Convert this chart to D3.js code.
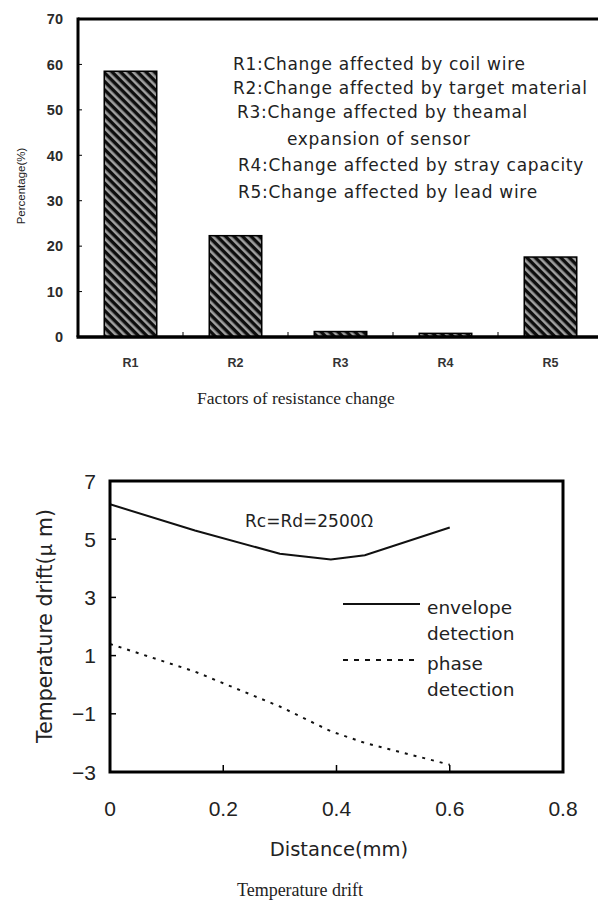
<!DOCTYPE html>
<html>
<head>
<meta charset="utf-8">
<script src="https://cdn.jsdelivr.net/npm/d3@7"></script>
<style>
  body { margin: 0; background: #fff; }
  svg { display: block; }
</style>
</head>
<body>
<script>
// Data
const factors = ["R1", "R2", "R3", "R4", "R5"];
const percentages = [58.5, 22.3, 1.2, 0.8, 17.6];
const percentTicks = [0, 10, 20, 30, 40, 50, 60, 70];
const factorNotes = [
    "R1:Change affected by coil wire",
    "R2:Change affected by target material",
    "R3:Change affected by theamal",
    "expansion of sensor",
    "R4:Change affected by stray capacity",
    "R5:Change affected by lead wire"
];

const distance = [0, 0.15, 0.3, 0.39, 0.45, 0.6];
const envelopeDrift = [6.2, 5.3, 4.5, 4.3, 4.45, 5.4];
const phaseDrift = [1.4, 0.45, -0.75, -1.6, -2.0, -2.75];
const driftTicks = [-3, -1, 1, 3, 5, 7];
const distanceTicks = [0, 0.2, 0.4, 0.6, 0.8];

const width = 598;
const height = 900;

const svg = d3.select("body").append("svg")
    .attr("width", width)
    .attr("height", height);

// Hatch pattern for the bars
const defs = svg.append("defs");
const pat = defs.append("pattern")
    .attr("id", "hatch")
    .attr("patternUnits", "userSpaceOnUse")
    .attr("width", 6)
    .attr("height", 6)
    .attr("patternTransform", "rotate(-45)");
pat.append("rect").attr("width", 6).attr("height", 6).attr("fill", "#0d0d0d");
pat.append("rect").attr("x", 0).attr("width", 2.6).attr("height", 6).attr("fill", "#a0a0a0");

// ---------- Top chart: bars ----------
const barBox = { left: 78, right: 603, top: 19, bottom: 337 };

const xBand = d3.scaleBand()
    .domain(factors)
    .range([barBox.left, barBox.right])
    .paddingInner(0.5)
    .paddingOuter(0.25);

const yPct = d3.scaleLinear()
    .domain([0, 70])
    .range([barBox.bottom, barBox.top]);

const g1 = svg.append("g");

// bars
g1.selectAll(".bar")
    .data(factors)
    .enter().append("rect")
    .attr("class", "bar")
    .attr("x", d => xBand(d))
    .attr("y", (d, i) => yPct(percentages[i]))
    .attr("width", xBand.bandwidth())
    .attr("height", (d, i) => yPct(0) - yPct(percentages[i]))
    .attr("fill", "url(#hatch)")
    .attr("stroke", "#000")
    .attr("stroke-width", 1.5);

// frame lines
g1.append("line")
    .attr("x1", barBox.left).attr("x2", width)
    .attr("y1", barBox.top).attr("y2", barBox.top)
    .attr("stroke", "#000").attr("stroke-width", 3);
g1.append("line")
    .attr("x1", barBox.left).attr("x2", barBox.left)
    .attr("y1", barBox.top - 1.5).attr("y2", barBox.bottom)
    .attr("stroke", "#000").attr("stroke-width", 3);
g1.append("line")
    .attr("x1", barBox.left - 1.5).attr("x2", width)
    .attr("y1", barBox.bottom).attr("y2", barBox.bottom)
    .attr("stroke", "#000").attr("stroke-width", 3.5);

// y ticks (inward)
g1.selectAll(".ytick")
    .data(percentTicks.slice(1, -1))
    .enter().append("line")
    .attr("x1", barBox.left).attr("x2", barBox.left + 4)
    .attr("y1", d => yPct(d)).attr("y2", d => yPct(d))
    .attr("stroke", "#000").attr("stroke-width", 1);

g1.selectAll(".ylab")
    .data(percentTicks)
    .enter().append("text")
    .attr("x", barBox.left - 15)
    .attr("y", d => yPct(d))
    .attr("dy", "0.36em")
    .attr("text-anchor", "end")
    .style("font-family", "Liberation Sans, Arial, sans-serif")
    .style("font-size", "14.5px")
    .style("font-weight", "bold")
    .style("fill", "#2a2a2a")
    .text(d => d);

// x category ticks (boundaries, inward)
g1.selectAll(".xtick")
    .data(factors.slice(1))
    .enter().append("line")
    .attr("x1", d => xBand(d) - xBand.step() * 0.25)
    .attr("x2", d => xBand(d) - xBand.step() * 0.25)
    .attr("y1", barBox.bottom).attr("y2", barBox.bottom - 5)
    .attr("stroke", "#000").attr("stroke-width", 1);

g1.selectAll(".xlab")
    .data(factors)
    .enter().append("text")
    .attr("x", d => xBand(d) + xBand.bandwidth() / 2)
    .attr("y", 362)
    .attr("dy", "0.36em")
    .attr("text-anchor", "middle")
    .style("font-family", "Liberation Sans Narrow, Liberation Sans, Arial, sans-serif")
    .style("font-size", "12.5px")
    .style("font-weight", "bold")
    .style("fill", "#333")
    .text(d => d);

// y label
g1.append("text")
    .attr("transform", "translate(21,186) rotate(-90)")
    .attr("text-anchor", "middle")
    .attr("dy", "0.36em")
    .style("font-family", "Liberation Sans, Arial, sans-serif")
    .style("font-size", "11.5px")
    .style("fill", "#222")
    .text("Percentage(%)");

// notes
const noteX = [233, 233, 237, 287, 238, 238];
const noteY = [64, 88, 112, 139, 165, 192];
g1.selectAll(".note")
    .data(factorNotes)
    .enter().append("text")
    .attr("x", (d, i) => noteX[i])
    .attr("y", (d, i) => noteY[i])
    .attr("dy", "0.36em")
    .style("font-family", "DejaVu Sans, sans-serif")
    .style("font-size", "17px")
    .style("letter-spacing", "0.7px")
    .style("fill", "#222")
    .text(d => d);

// caption
svg.append("text")
    .attr("x", 296).attr("y", 398)
    .attr("dy", "0.36em")
    .attr("text-anchor", "middle")
    .style("font-family", "Liberation Serif, Times New Roman, serif")
    .style("font-size", "17.5px")
    .style("fill", "#222")
    .text("Factors of resistance change");

// ---------- Bottom chart: lines ----------
const lineBox = { left: 110, right: 563, top: 481, bottom: 772 };

const xDist = d3.scaleLinear().domain([0, 0.8]).range([lineBox.left, lineBox.right]);
const yDrift = d3.scaleLinear().domain([-3, 7]).range([lineBox.bottom, lineBox.top]);

const g2 = svg.append("g");

const line = d3.line()
    .x((d, i) => xDist(distance[i]))
    .y(d => yDrift(d));

g2.append("path")
    .datum(envelopeDrift)
    .attr("d", line)
    .attr("fill", "none")
    .attr("stroke", "#111")
    .attr("stroke-width", 2);

g2.append("path")
    .datum(phaseDrift)
    .attr("d", line)
    .attr("fill", "none")
    .attr("stroke", "#111")
    .attr("stroke-width", 2)
    .attr("stroke-dasharray", "3,6");

// frame
g2.append("rect")
    .attr("x", lineBox.left).attr("y", lineBox.top)
    .attr("width", lineBox.right - lineBox.left)
    .attr("height", lineBox.bottom - lineBox.top)
    .attr("fill", "none")
    .attr("stroke", "#000")
    .attr("stroke-width", 3);

// ticks
g2.selectAll(".ytick")
    .data(driftTicks.slice(1, -1))
    .enter().append("line")
    .attr("x1", lineBox.left).attr("x2", lineBox.left + 6)
    .attr("y1", d => yDrift(d)).attr("y2", d => yDrift(d))
    .attr("stroke", "#000").attr("stroke-width", 1.5);

g2.selectAll(".xtick")
    .data(distanceTicks.slice(1, -1))
    .enter().append("line")
    .attr("x1", d => xDist(d)).attr("x2", d => xDist(d))
    .attr("y1", lineBox.bottom).attr("y2", lineBox.bottom - 7)
    .attr("stroke", "#000").attr("stroke-width", 1.5);

g2.selectAll(".ylab")
    .data(driftTicks)
    .enter().append("text")
    .attr("x", 96)
    .attr("y", d => yDrift(d))
    .attr("dy", "0.36em")
    .attr("text-anchor", "end")
    .style("font-family", "Liberation Sans, Arial, sans-serif")
    .style("font-size", "21px")
    .style("fill", "#222")
    .text(d => d < 0 ? "\u2212" + Math.abs(d) : d);

g2.selectAll(".xlab")
    .data(distanceTicks)
    .enter().append("text")
    .attr("x", d => xDist(d))
    .attr("y", 808)
    .attr("dy", "0.36em")
    .attr("text-anchor", "middle")
    .style("font-family", "Liberation Sans, Arial, sans-serif")
    .style("font-size", "21px")
    .style("fill", "#222")
    .text(d => d);

g2.append("text")
    .attr("x", 339).attr("y", 849)
    .attr("dy", "0.36em")
    .attr("text-anchor", "middle")
    .style("font-family", "DejaVu Sans, sans-serif")
    .style("font-size", "19.5px")
    .style("fill", "#222")
    .text("Distance(mm)");

const yTitle = g2.append("text")
    .attr("transform", "translate(45,626) rotate(-90)")
    .attr("dy", "0.36em")
    .attr("text-anchor", "middle")
    .style("font-family", "DejaVu Sans, sans-serif")
    .style("font-size", "20.5px")
    .style("fill", "#222");
yTitle.append("tspan").text("Temperature drift(");
yTitle.append("tspan").style("font-family", "Noto Sans CJK JP, sans-serif").text("\u03bc");
yTitle.append("tspan").text(" m)");

const rcText = g2.append("text")
    .attr("x", 245).attr("y", 521)
    .attr("dy", "0.36em")
    .style("font-family", "DejaVu Sans, sans-serif")
    .style("font-size", "17px")
    .style("fill", "#222");
rcText.append("tspan").text("Rc=Rd=2500");
rcText.append("tspan").style("font-family", "Noto Sans CJK JP, sans-serif").text("\u03a9");

// legend
const legendItems = [
    { dash: null, y: 604, lines: ["envelope", "detection"] },
    { dash: "5,6", y: 660, lines: ["phase", "detection"] }
];
const leg = g2.selectAll(".leg")
    .data(legendItems)
    .enter().append("g");
leg.append("line")
    .attr("x1", 343).attr("x2", 420)
    .attr("y1", d => d.y).attr("y2", d => d.y)
    .attr("stroke", "#111")
    .attr("stroke-width", 2)
    .attr("stroke-dasharray", d => d.dash);
leg.each(function(d) {
    d3.select(this).selectAll("text")
        .data(d.lines)
        .enter().append("text")
        .attr("x", 427)
        .attr("y", (t, i) => d.y + 3 + i * 26)
        .attr("dy", "0.36em")
        .style("font-family", "DejaVu Sans, sans-serif")
        .style("font-size", "18.5px")
        .style("fill", "#222")
        .text(t => t);
});

svg.append("text")
    .attr("x", 300).attr("y", 890)
    .attr("dy", "0.36em")
    .attr("text-anchor", "middle")
    .style("font-family", "Liberation Serif, Times New Roman, serif")
    .style("font-size", "18px")
    .style("fill", "#222")
    .text("Temperature drift");
</script>
</body>
</html>
